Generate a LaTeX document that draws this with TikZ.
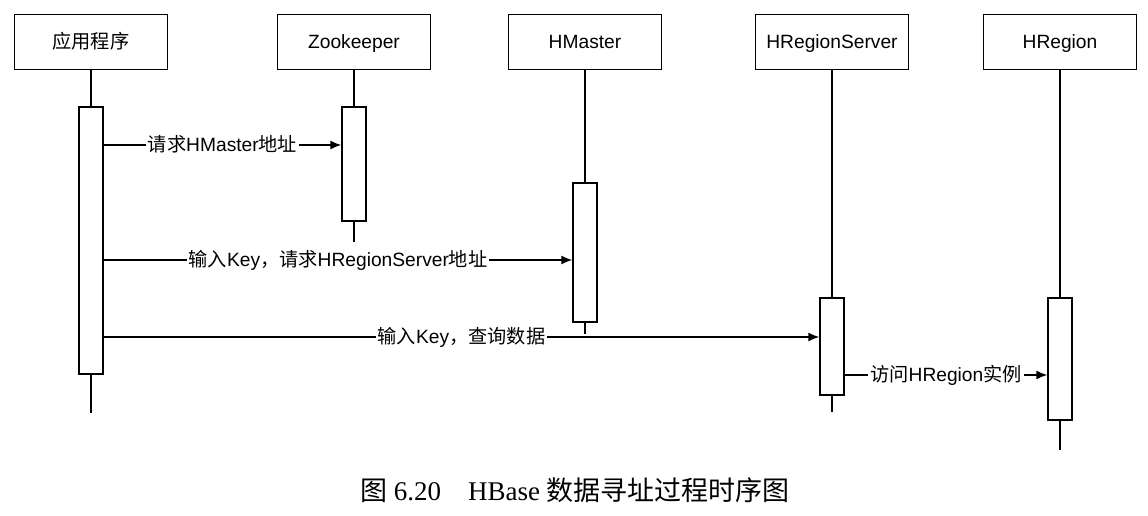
\documentclass[tikz,border=0pt]{standalone}
\usepackage{fontspec}
\setmainfont{Liberation Sans}
\newfontfamily\cjk{Noto Sans CJK SC}
\newfontfamily\capfont{Liberation Serif}
\newcommand{\zh}[1]{{\cjk #1}}
\usetikzlibrary{arrows.meta}

\begin{document}
\begin{tikzpicture}[x=0.5pt, y=-0.5pt,
    every node/.style={font=\fontsize{9.6}{11}\selectfont},
    actor/.style={draw, line width=0.75pt, minimum width=76.5pt, minimum height=27.5pt, inner sep=0pt, text height=7.5pt, text depth=1.5pt},
    bar/.style={draw, line width=0.7pt, fill=white, minimum width=12pt, inner sep=0pt},
    life/.style={line width=0.7pt},
    msg/.style={-{Latex[length=5.5pt, width=4.5pt]}, line width=0.7pt},
    msglabel/.style={fill=white, inner sep=1pt, text height=7.5pt, text depth=1.5pt}]
        \useasboundingbox (0,0) rectangle (1148,515);

        % Actors
        \node[actor] (app) at (91,42) {\zh{应用程序}};
        \node[actor] (zk) at (354,42) {Zookeeper};
        \node[actor] (hm) at (585,42) {HMaster};
        \node[actor] (hrs) at (832,42) {HRegionServer};
        \node[actor] (hr) at (1060,42) {HRegion};

        % Lifeline ends
        \coordinate (append) at (91,413);
        \coordinate (zkend) at (354,242);
        \coordinate (hmend) at (585,334);
        \coordinate (hrsend) at (832,412);
        \coordinate (hrend) at (1060,450);

        \draw[life] (app.south) -- (append);
        \draw[life] (zk.south) -- (zkend);
        \draw[life] (hm.south) -- (hmend);
        \draw[life] (hrs.south) -- (hrsend);
        \draw[life] (hr.south) -- (hrend);

        % Activation bars
        \node[bar, minimum height=133.5pt] (appbar) at (91,240.5) {};
        \node[bar, minimum height=57pt] (zkbar) at (354,164) {};
        \node[bar, minimum height=69.5pt] (hmbar) at (585,252.5) {};
        \node[bar, minimum height=48.5pt] (hrsbar) at (832,346.5) {};
        \node[bar, minimum height=61pt] (hrbar) at (1060,359) {};

        % Messages
        \coordinate (m1) at (0,145);
        \coordinate (m2) at (0,260);
        \coordinate (m3) at (0,337);
        \coordinate (m4) at (0,375);

        \draw[msg] (appbar.east |- m1) -- node[msglabel] (l1) {\zh{请求}HMaster\zh{地址}} (zkbar.west |- m1);
        \draw[msg] (appbar.east |- m2) -- node[msglabel] (l2) {\zh{输入}Key\zh{，请求}HRegionServer\zh{地址}} (hmbar.west |- m2);
        \draw[msg] (appbar.east |- m3) -- node[msglabel] (l3) {\zh{输入}Key\zh{，查询数据}} (hrsbar.west |- m3);
        \draw[msg] (hrsbar.east |- m4) -- node[msglabel] (l4) {\zh{访问}HRegion\zh{实例}} (hrbar.west |- m4);

        % Caption
        \node[font=\fontsize{13.5}{16}\selectfont\capfont] (caption) at (575,490) {\zh{图} 6.20\quad HBase \zh{数据寻址过程时序图}};
\end{tikzpicture}
\end{document}
